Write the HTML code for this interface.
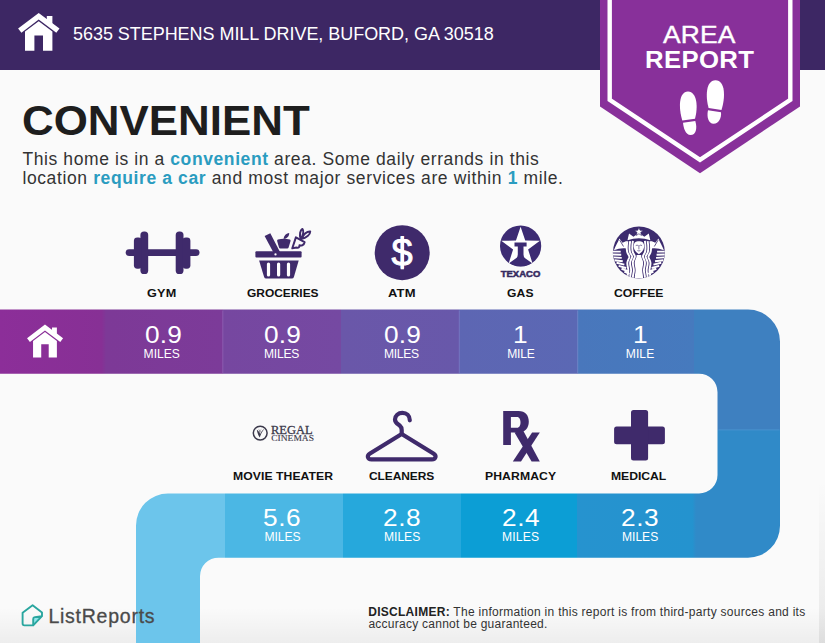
<!DOCTYPE html>
<html>
<head>
<meta charset="utf-8">
<title>Area Report</title>
<style>
*{margin:0;padding:0;box-sizing:border-box;}
html,body{width:825px;height:643px;overflow:hidden;background:#fafafa;}
body{font-family:"Liberation Sans",sans-serif;position:relative;color:#222;}
#page{position:absolute;left:0;top:0;width:825px;height:643px;overflow:hidden;background:#fafafa;}
.abs{position:absolute;white-space:nowrap;}
#hdr{position:absolute;left:0;top:0;width:825px;height:70px;background:#3d2764;}
#l1 b,#l2 b{color:#2a9cc0;}
#d1 b{color:#222;}
#vb{position:absolute;left:0;top:608px;width:825px;height:35px;background:linear-gradient(to bottom,rgba(0,0,0,0),rgba(0,0,0,0.05));}
#vr{position:absolute;left:819px;top:480px;width:6px;height:163px;background:linear-gradient(to bottom,rgba(0,0,0,0),rgba(0,0,0,0.07));}
svg{position:absolute;left:0;top:0;}
</style>
</head>
<body>
<div id="page">
<div id="hdr"></div>

<div id="vb"></div><div id="vr"></div>
<!-- ribbon -->
<svg id="ribbon" width="825" height="643" viewBox="0 0 825 643">
  <defs>
    <clipPath id="rc">
      <path d="M0 309.6 H748 A32 32 0 0 1 780 341.6 V525.7 A32 32 0 0 1 748 557.7 H218.5 A18.5 18.5 0 0 0 200 576.2 V643 H136 V525.5 A32 32 0 0 1 168 493.5 H699 A18.5 18.5 0 0 0 717.5 474.8 V392.2 A18.5 18.5 0 0 0 699 373.7 H0 Z"/>
    </clipPath>
    <linearGradient id="s0" gradientUnits="userSpaceOnUse" x1="0" y1="0" x2="106" y2="0"><stop offset="0" stop-color="#8c2e99"/><stop offset="0.96" stop-color="#873095"/><stop offset="1" stop-color="#7d3997"/></linearGradient>
    <linearGradient id="s1" gradientUnits="userSpaceOnUse" x1="107" y1="0" x2="223" y2="0"><stop offset="0" stop-color="#7d3997"/><stop offset="1" stop-color="#7c3b99"/></linearGradient>
    <linearGradient id="s2" gradientUnits="userSpaceOnUse" x1="223" y1="0" x2="341" y2="0"><stop offset="0" stop-color="#7647a0"/><stop offset="1" stop-color="#7549a2"/></linearGradient>
    <linearGradient id="s3" gradientUnits="userSpaceOnUse" x1="341" y1="0" x2="459" y2="0"><stop offset="0" stop-color="#6a57a9"/><stop offset="1" stop-color="#6858aa"/></linearGradient>
    <linearGradient id="s4" gradientUnits="userSpaceOnUse" x1="459" y1="0" x2="578" y2="0"><stop offset="0" stop-color="#5d66b3"/><stop offset="1" stop-color="#5b68b4"/></linearGradient>
    <linearGradient id="s5" gradientUnits="userSpaceOnUse" x1="578" y1="0" x2="694" y2="0"><stop offset="0" stop-color="#4977bc"/><stop offset="1" stop-color="#467abe"/></linearGradient>
    <linearGradient id="t4" gradientUnits="userSpaceOnUse" x1="577" y1="0" x2="696" y2="0"><stop offset="0" stop-color="#2693cf"/><stop offset="0.97" stop-color="#2493cf"/><stop offset="1" stop-color="#308ac8"/></linearGradient>
  </defs>
  <g clip-path="url(#rc)">
    <rect x="0" y="300" width="106" height="80" fill="url(#s0)"/>
    <rect x="106" y="300" width="117" height="80" fill="url(#s1)"/>
    <rect x="223" y="300" width="118" height="80" fill="url(#s2)"/>
    <rect x="341" y="300" width="118" height="80" fill="url(#s3)"/>
    <rect x="459" y="300" width="119" height="80" fill="url(#s4)"/>
    <rect x="578" y="300" width="116" height="80" fill="url(#s5)"/>
    <rect x="694" y="300" width="100" height="130" fill="#3e80c0"/>
    <rect x="225" y="485" width="118" height="80" fill="#4bb7e4"/>
    <rect x="343" y="485" width="118" height="80" fill="#26a8dc"/>
    <rect x="461" y="485" width="116" height="80" fill="#0c9ed5"/>
    <rect x="577" y="485" width="119" height="80" fill="url(#t4)"/>
    <rect x="696" y="430" width="100" height="140" fill="#308ac8"/>
    <rect x="130" y="485" width="95" height="160" fill="#6cc5eb"/>
  </g>
  <g>
    <rect x="222.300" y="310.500" width="1" height="62.500" fill="#8a5cb0"/>
    <rect x="458.800" y="310.500" width="1" height="62.500" fill="#7674c0"/>
    <rect x="577.200" y="310.500" width="1" height="62.500" fill="#6c86c8"/>
    <rect x="718.500" y="429.400" width="61" height="1" fill="#4a92cf"/>
  </g>
</svg>

<!-- badge -->
<svg id="badge" width="825" height="200" viewBox="0 0 825 200">
  <path d="M600 0 H800 V106.5 L700 173.2 L600 106.5 Z" fill="#88309a"/>
  <path d="M609.7 0 V99.8 L700 159.8 L790.3 99.8 V0" fill="none" stroke="#fff" stroke-width="4.4"/>
</svg>



<!-- ICONS -->
<svg id="icons" width="825" height="643" viewBox="0 0 825 643">
  <g fill="#fff">
      <path d="M18.1 28.5 L38.7 12.9 L59.5 28.5 L56.3 32.8 L38.7 19.6 L21.4 32.8 Z"/>
      <path d="M46.8 16.1 H52.4 V24 L46.8 19.8 Z"/>
      <path d="M25 31.6 L38.7 21.3 L52.4 31.6 V50.8 H43 V35.4 H34.4 V50.8 H25 Z"/>
  </g>
  <g fill="#fff" transform="translate(11.3,313.4) scale(0.87)">
      <path d="M18.1 28.5 L38.7 12.9 L59.5 28.5 L56.3 32.8 L38.7 19.6 L21.4 32.8 Z"/>
      <path d="M46.8 16.1 H52.4 V24 L46.8 19.8 Z"/>
      <path d="M25 31.6 L38.7 21.3 L52.4 31.6 V50.8 H43 V35.4 H34.4 V50.8 H25 Z"/>
  </g>

  <!-- footprints -->
  <g fill="#fff">
    <path d="M682.3 120.6 C678.5 108 678.5 92 688 91.6 C697.5 92 698 108 695 118.7 Z"/>
    <path d="M683 122.8 L695.3 120.9 C697.5 128 696 135 690.5 135.1 C685.5 135 683.5 128 683 122.8 Z"/>
    <path d="M708.6 107.9 C705.5 97 705.5 80.5 715.5 80.2 C725.5 80.5 725.5 97 721.5 110 Z"/>
    <path d="M708 110.2 L721 112.3 C721.5 118 719 123.7 713.5 123.7 C708.5 123.5 706.5 117 708 110.2 Z"/>
  </g>

  <!-- gym -->
  <g fill="#3f2a6b">
    <rect x="125.7" y="249.2" width="73.8" height="6.8" rx="3.4"/>
    <rect x="140.4" y="231.4" width="7.8" height="42.6" rx="3.6"/>
    <rect x="133.9" y="237.4" width="8" height="31.3" rx="3.4"/>
    <rect x="175.7" y="231.4" width="7.8" height="42.6" rx="3.6"/>
    <rect x="182.4" y="237.4" width="8" height="31.3" rx="3.4"/>
  </g>

  <!-- atm -->
  <circle cx="402.2" cy="252.7" r="27.5" fill="#3f2a6b"/>

  <!-- medical -->
  <g fill="#3f2a6b">
    <rect x="614.1" y="426.4" width="50.8" height="17.9" rx="2.5"/>
    <rect x="631" y="410.1" width="17.1" height="50.3" rx="2.5"/>
  </g>


  <!-- atm dollar -->
  <rect x="400.7" y="236.6" width="3.2" height="32.7" fill="#fff"/>
  <text id="dollar" x="402.1" y="266.2" font-size="38" text-anchor="middle" fill="#fff" stroke="#fff" stroke-width="0.9" font-family="Liberation Sans, sans-serif">$</text>

  <!-- groceries -->
  <g fill="#3f2a6b">
    <rect x="255.4" y="251.3" width="46.2" height="6.2" rx="1"/>
    <path d="M259.1 260.5 H298.7 L293.9 276.9 Q293.4 278.4 291.9 278.4 H266.1 Q264.6 278.4 264.1 276.9 Z"/>
    <path d="M264.6 235.9 L270.3 233.2 L280 252 L274.5 254.6 Z"/>
    <path d="M278 239.6 Q283.8 237.9 289.8 239.6 Q290.9 240 290.5 241.2 L288.6 247.6 Q288.3 248.6 287.2 248.6 H280.4 Q279.3 248.6 279 247.6 L277.2 241.2 Q276.8 240 278 239.6 Z"/>
    <path d="M283.6 239 C283.8 236 285.8 233.4 289.2 233 C289.4 236 287 238.8 283.6 239 Z"/>
  </g>
  <g fill="#fff">
    <rect x="266.9" y="262.5" width="3.2" height="14" rx="1.6"/>
    <rect x="277" y="262.5" width="3.2" height="14" rx="1.6"/>
    <rect x="286.9" y="262.5" width="3.2" height="14" rx="1.6"/>
    <circle cx="275.5" cy="254.4" r="1.15"/>
  </g>
  <g fill="none" stroke="#3f2a6b" stroke-width="2" stroke-linejoin="round" stroke-linecap="round">
    <path d="M292.3 248.3 L295.9 237.4 L304.6 242.2 C304 245 301.5 246 299.5 245.2 C299.8 247 298.5 248.3 296.6 247.6 Z"/>
    <path d="M300.6 238.8 C299.2 234.6 300.2 230.2 302.4 229 C304.2 231 303.4 235.2 300.6 238.8 Z"/>
    <path d="M301.2 239 C303.4 234.6 307 231.2 310.2 231.4 C310.2 234.8 306.4 238 301.2 239 Z"/>
  </g>

  <!-- texaco -->
  <circle cx="520.6" cy="246" r="20.6" fill="#3c2b73"/>
  <polygon points="520.60,226.70 525.24,240.61 539.91,240.73 528.11,249.44 532.53,263.42 520.60,254.90 508.67,263.42 513.09,249.44 501.29,240.73 515.96,240.61" fill="#fff"/>
  <path d="M514.5 242.6 H526.6 V246.4 H523.5 V254 C523.5 257 525 259.5 527.5 262 L531.5 263.5 Q520.6 269 509.7 263.5 L513.7 262 C516.2 259.5 517.8 257 517.8 254 V246.4 H514.5 Z" fill="#3c2b73"/>
  <text x="520.5" y="277.2" font-size="9.3" font-weight="bold" text-anchor="middle" fill="#35295f" stroke="#35295f" stroke-width="0.5" textLength="39.6" lengthAdjust="spacingAndGlyphs" font-family="Liberation Sans, sans-serif">TEXACO</text>

  <!-- regal -->
  <g>
    <circle cx="260.2" cy="433.1" r="6.9" fill="none" stroke="#3b394b" stroke-width="1.5"/>
    <path d="M256.8 429.8 C257.3 433 258.3 435.6 259.8 437.6 C260.8 434 262.6 431 264.6 428.6 C262.6 430 261 432 260.2 434 C259.6 432.500 258.500 430.800 256.800 429.800 Z M258.500 428.800 C259 430.500 259.500 432 260 433 C260.300 431.500 260.800 430 261.600 428.600 C260.800 429.600 260.300 430.600 260 431.600 C259.700 430.600 259.200 429.700 258.500 428.800 Z" fill="#3b394b"/>
    <text x="271" y="434.3" font-size="12.4" fill="#3b394b" stroke="#3b394b" stroke-width="0.3" textLength="41.6" lengthAdjust="spacingAndGlyphs" font-family="Liberation Serif, serif">REGAL</text>
    <text x="271.3" y="441.4" font-size="7.8" fill="#3b394b" stroke="#3b394b" stroke-width="0.12" textLength="42.6" lengthAdjust="spacingAndGlyphs" font-family="Liberation Serif, serif">CINEMAS</text>
  </g>

  <!-- hanger -->
  <g fill="none" stroke="#3f2a6b" stroke-width="4.2" stroke-linejoin="round" stroke-linecap="round">
    <path d="M401.7 434 L370 453.5 C366.5 455.7 367.5 459.4 371.5 459.4 H431.9 C435.9 459.4 436.9 455.7 433.4 453.5 Z"/>
    <path d="M409.8 420.3 C409.8 415.5 406.5 412.8 402.4 412.8 C398.3 412.8 395 415.7 395 419.4 C395 423 398 424.2 399.8 425.6 C401.2 426.8 401.7 428 401.7 430 V434"/>
  </g>

  <!-- rx -->
  <g fill="#3f2a6b">
    <path fill-rule="evenodd" d="M503.2 411 H518.5 C525.5 411 528.8 415.5 528.8 421.7 C528.8 428 525 432.5 518.5 432.5 H510.9 V445 H503.2 Z M510.9 417.1 V427.7 H517 C519.5 427.7 520.5 425 520.5 422.4 C520.5 419.8 519.5 417.1 517 417.1 Z"/>
    <path d="M514.5 432.5 L523 430.2 L539.8 461.4 H531.6 Z"/>
    <path d="M532.1 432.5 H539.8 L521 461.4 H512.8 Z"/>
  </g>

  <!-- starbucks -->
  <g transform="translate(612.9,226.4) scale(0.52)">
    <defs><clipPath id="sbc"><circle cx="50" cy="50" r="50"/></clipPath></defs>
    <circle cx="50" cy="50" r="50" fill="#3c2b6e"/>
    <g clip-path="url(#sbc)">
    <g fill="none" stroke="#fff" stroke-width="3.7" stroke-linecap="butt">
      <path d="M38.5 28 C37 37 37 46 38.5 50 C40 54 42.7 55 42.2 58.5 C41.2 63 38.3 65 38.3 70 C38.3 76 40.5 80 40.3 85 C40 90 38.3 93 38.5 99"/>
      <path d="M38.5 28 C37 37 37 46 38.5 50 C40 54 42.7 55 42.2 58.5 C41.2 63 38.3 65 38.3 70 C38.3 76 40.5 80 40.3 85 C40 90 38.3 93 38.5 99" transform="translate(-5.3,0.3)"/>
      <path d="M38.5 28 C37 37 37 46 38.5 50 C40 54 42.7 55 42.2 58.5 C41.2 63 38.3 65 38.3 70 C38.3 76 40.5 80 40.3 85 C40 90 38.3 93 38.5 99" transform="translate(-10.600,0.6)"/>
      <path d="M 61.5 28 C 63 37 63 46 61.5 50 C 60 54 57.3 55 57.8 58.5 C 58.8 63 61.7 65 61.7 70 C 61.7 76 59.5 80 59.7 85 C 60 90 61.7 93 61.5 99"/>
      <path d="M 61.5 28 C 63 37 63 46 61.5 50 C 60 54 57.3 55 57.8 58.5 C 58.8 63 61.7 65 61.7 70 C 61.7 76 59.5 80 59.7 85 C 60 90 61.7 93 61.5 99" transform="translate(5.3,0.3)"/>
      <path d="M 61.5 28 C 63 37 63 46 61.5 50 C 60 54 57.3 55 57.8 58.5 C 58.8 63 61.7 65 61.7 70 C 61.7 76 59.5 80 59.7 85 C 60 90 61.7 93 61.5 99" transform="translate(10.600,0.6)"/>
    </g>
    <g fill="none" stroke="#fff" stroke-width="3.7" stroke-linecap="butt">
      <path d="M0 48.5 L15 48.5 M0 54 L16 54.5 M1 59.5 L17 60.5 M3 65 L19 67 M7 70 L22 73.5 M11 76 L25.5 80 M16.5 81.5 L29 86 M22 87 L32 91.5"/>
      <path d="M 100 48.5 L 85 48.5 M 100 54 L 84 54.5 M 99 59.5 L 83 60.5 M 97 65 L 81 67 M 93 70 L 78 73.5 M 89 76 L 74.5 80 M 83.5 81.5 L 71 86 M 78 87 L 68 91.5"/>
    </g>
    <g fill="#fff">
      <path d="M45.6 55 C46.5 60 41.8 64 41.8 70 C41.8 76 43.8 80 43.6 85 C43.4 90 41.8 94 42 100 L58 100 C58.2 94 56.600 90 56.400 85 C56.200 80 58.200 76 58.200 70 C58.200 64 53.500 60 54.400 55 Z"/>
      <path d="M2 46 C5 38 10 30 12.5 23.5 L18.5 31.5 L26 28 C27.5 33 27.5 38 25.5 42.5 C18 41 10 43 2 46 Z"/>
      <path d="M 98 46 C 95 38 90 30 87.5 23.5 L 81.5 31.5 L 74 28 C 72.5 33 72.5 38 74.5 42.5 C 82 41 90 43 98 46 Z"/>
      <path d="M28 26.5 L31 13.5 L39.5 20 L50 12.500 L60.500 20 L69 13.5 L72 26.5 Q50 19 28 26.5 Z"/>
      <path d="M40 38 C40 31 44 28.500 50 28.500 C56 28.500 60 31 60 38 C60 45 55 50 50 53.500 C45 50 40 45 40 38 Z"/>
      <polygon points="50.00,1.90 52.17,7.51 58.18,7.84 53.52,11.64 55.05,17.46 50.00,14.20 44.95,17.46 46.48,11.64 41.82,7.84 47.83,7.51" stroke="#3c2b6e" stroke-width="1.2"/>
    </g>
    <g fill="none" stroke="#3c2b6e" stroke-width="1.2" stroke-linecap="round">
      <path d="M44.500 36.500 Q46.500 35 48.300 36.500 M51.700 36.500 Q53.500 35 55.500 36.500 M50 37 V43.500 M47.800 46.800 Q50 48 52.200 46.800"/>
      <path d="M13.500 27 L20 38" stroke-width="1.6"/><path d="M86.500 27 L80 38" stroke-width="1.6"/>
    </g>
    </g>
  </g>

  <!-- listreports logo -->
  <path d="M33.4 617.3 L41.7 616.4 L33.2 625.3 Z" fill="#8fe6ea"/>
  <path d="M32.6 605.2 L42 612.4 V616.2 L33.2 625.4 H24.4 Q22.6 625.4 22.6 623.6 V612.8 Z M33.2 625.4 V619 Q33.2 617.3 34.9 617.1 L41.8 616.3" fill="none" stroke="#2aa69f" stroke-width="1.9" stroke-linejoin="round" stroke-linecap="round"/>
</svg>
<!-- /ICONS -->
<!-- TEXT -->
<div class="abs" id="addr" style="left:73.00px;top:25.06px;font-size:18px;line-height:18px;font-weight:normal;color:#fff;letter-spacing:-0.044px;">5635 STEPHENS MILL DRIVE, BUFORD, GA 30518</div>
<div class="abs" id="title" style="left:22.00px;top:100.34px;font-size:42px;line-height:42px;font-weight:bold;color:#1e1e1e;letter-spacing:0.000px;transform:scaleX(1.045);transform-origin:0 0;">CONVENIENT</div>
<div class="abs" id="l1" style="left:22.40px;top:150.88px;font-size:17.5px;line-height:17.5px;font-weight:normal;color:#333;letter-spacing:0.597px;">This home is in a <b>convenient</b> area. Some daily errands in this</div>
<div class="abs" id="l2" style="left:22.40px;top:170.07px;font-size:17.5px;line-height:17.5px;font-weight:normal;color:#333;letter-spacing:0.618px;">location <b>require a car</b> and most major services are within <b>1</b> mile.</div>
<div class="abs" id="la0" style="left:147.00px;top:288.15px;font-size:11.5px;line-height:11.5px;font-weight:bold;color:#111;letter-spacing:0.205px;transform:scaleX(1.1);transform-origin:0 0;">GYM</div>
<div class="abs" id="la1" style="left:246.80px;top:288.15px;font-size:11.5px;line-height:11.5px;font-weight:bold;color:#111;letter-spacing:-0.022px;transform:scaleX(1.04);transform-origin:0 0;">GROCERIES</div>
<div class="abs" id="la2" style="left:388.00px;top:288.15px;font-size:11.5px;line-height:11.5px;font-weight:bold;color:#111;letter-spacing:0.119px;transform:scaleX(1.13);transform-origin:0 0;">ATM</div>
<div class="abs" id="la3" style="left:507.00px;top:288.15px;font-size:11.5px;line-height:11.5px;font-weight:bold;color:#111;letter-spacing:0.129px;transform:scaleX(1.05);transform-origin:0 0;">GAS</div>
<div class="abs" id="la4" style="left:614.40px;top:288.15px;font-size:11.5px;line-height:11.5px;font-weight:bold;color:#111;letter-spacing:0.000px;transform:scaleX(1.06);transform-origin:0 0;">COFFEE</div>
<div class="abs" id="lb0" style="left:232.80px;top:471.06px;font-size:11.5px;line-height:11.5px;font-weight:bold;color:#111;letter-spacing:0.057px;transform:scaleX(1.06);transform-origin:0 0;">MOVIE THEATER</div>
<div class="abs" id="lb1" style="left:369.00px;top:471.06px;font-size:11.5px;line-height:11.5px;font-weight:bold;color:#111;letter-spacing:-0.074px;transform:scaleX(1.04);transform-origin:0 0;">CLEANERS</div>
<div class="abs" id="lb2" style="left:484.60px;top:471.06px;font-size:11.5px;line-height:11.5px;font-weight:bold;color:#111;letter-spacing:0.085px;transform:scaleX(1.06);transform-origin:0 0;">PHARMACY</div>
<div class="abs" id="lb3" style="left:611.40px;top:471.06px;font-size:11.5px;line-height:11.5px;font-weight:bold;color:#111;letter-spacing:-0.042px;transform:scaleX(1.06);transform-origin:0 0;">MEDICAL</div>
<div class="abs" id="na0" style="left:144.60px;top:322.63px;font-size:24.3px;line-height:24.3px;font-weight:normal;color:#fff;letter-spacing:0.125px;transform:scaleX(1.08);transform-origin:0 0;">0.9</div>
<div class="abs" id="ma0" style="left:143.60px;top:347.76px;font-size:12.1px;line-height:12.1px;font-weight:normal;color:#fff;letter-spacing:-0.023px;">MILES</div>
<div class="abs" id="na1" style="left:264.00px;top:322.63px;font-size:24.3px;line-height:24.3px;font-weight:normal;color:#fff;letter-spacing:0.125px;transform:scaleX(1.08);transform-origin:0 0;">0.9</div>
<div class="abs" id="ma1" style="left:264.00px;top:347.76px;font-size:12.1px;line-height:12.1px;font-weight:normal;color:#fff;letter-spacing:-0.248px;">MILES</div>
<div class="abs" id="na2" style="left:384.00px;top:322.63px;font-size:24.3px;line-height:24.3px;font-weight:normal;color:#fff;letter-spacing:0.208px;transform:scaleX(1.08);transform-origin:0 0;">0.9</div>
<div class="abs" id="ma2" style="left:384.00px;top:347.76px;font-size:12.1px;line-height:12.1px;font-weight:normal;color:#fff;letter-spacing:-0.315px;">MILES</div>
<div class="abs" id="na3" style="left:513.40px;top:322.63px;font-size:24.3px;line-height:24.3px;font-weight:normal;color:#fff;letter-spacing:0.000px;transform:scaleX(1.08);transform-origin:0 0;">1</div>
<div class="abs" id="ma3" style="left:507.20px;top:347.76px;font-size:12.1px;line-height:12.1px;font-weight:normal;color:#fff;letter-spacing:-0.240px;">MILE</div>
<div class="abs" id="na4" style="left:632.60px;top:322.63px;font-size:24.3px;line-height:24.3px;font-weight:normal;color:#fff;letter-spacing:0.000px;transform:scaleX(1.08);transform-origin:0 0;">1</div>
<div class="abs" id="ma4" style="left:625.80px;top:347.76px;font-size:12.1px;line-height:12.1px;font-weight:normal;color:#fff;letter-spacing:0.060px;">MILE</div>
<div class="abs" id="nb0" style="left:263.40px;top:505.63px;font-size:24.3px;line-height:24.3px;font-weight:normal;color:#fff;letter-spacing:0.542px;transform:scaleX(1.08);transform-origin:0 0;">5.6</div>
<div class="abs" id="mb0" style="left:264.40px;top:530.76px;font-size:12.1px;line-height:12.1px;font-weight:normal;color:#fff;letter-spacing:-0.022px;">MILES</div>
<div class="abs" id="nb1" style="left:383.00px;top:505.63px;font-size:24.3px;line-height:24.3px;font-weight:normal;color:#fff;letter-spacing:0.542px;transform:scaleX(1.08);transform-origin:0 0;">2.8</div>
<div class="abs" id="mb1" style="left:384.00px;top:530.76px;font-size:12.1px;line-height:12.1px;font-weight:normal;color:#fff;letter-spacing:-0.022px;">MILES</div>
<div class="abs" id="nb2" style="left:502.00px;top:505.63px;font-size:24.3px;line-height:24.3px;font-weight:normal;color:#fff;letter-spacing:0.542px;transform:scaleX(1.08);transform-origin:0 0;">2.4</div>
<div class="abs" id="mb2" style="left:502.00px;top:530.76px;font-size:12.1px;line-height:12.1px;font-weight:normal;color:#fff;letter-spacing:0.202px;">MILES</div>
<div class="abs" id="nb3" style="left:621.00px;top:505.63px;font-size:24.3px;line-height:24.3px;font-weight:normal;color:#fff;letter-spacing:0.542px;transform:scaleX(1.08);transform-origin:0 0;">2.3</div>
<div class="abs" id="mb3" style="left:622.00px;top:530.76px;font-size:12.1px;line-height:12.1px;font-weight:normal;color:#fff;letter-spacing:-0.023px;">MILES</div>
<div class="abs" id="area" style="left:663.40px;top:22.98px;font-size:24px;line-height:24px;font-weight:normal;color:#fff;letter-spacing:0.136px;-webkit-text-stroke:0.35px #fff;transform:scaleX(1.1);transform-origin:0 0;">AREA</div>
<div class="abs" id="report" style="left:644.60px;top:47.97px;font-size:24.5px;line-height:24.5px;font-weight:bold;color:#fff;letter-spacing:0.343px;transform:scaleX(1.05);transform-origin:0 0;">REPORT</div>
<div class="abs" id="lr" style="left:48.40px;top:606.82px;font-size:19.5px;line-height:19.5px;font-weight:normal;color:#4a4a4a;letter-spacing:0.756px;-webkit-text-stroke:0.3px #4a4a4a;">ListReports</div>
<div class="abs" id="d1" style="left:368.20px;top:605.64px;font-size:12px;line-height:12px;font-weight:normal;color:#333;letter-spacing:0.283px;"><b>DISCLAIMER:</b> The information in this report is from third-party sources and its</div>
<div class="abs" id="d2" style="left:368.40px;top:618.24px;font-size:12px;line-height:12px;font-weight:normal;color:#333;letter-spacing:0.258px;">accuracy cannot be guaranteed.</div>
<!-- /TEXT -->
</div>
</body>
</html>
